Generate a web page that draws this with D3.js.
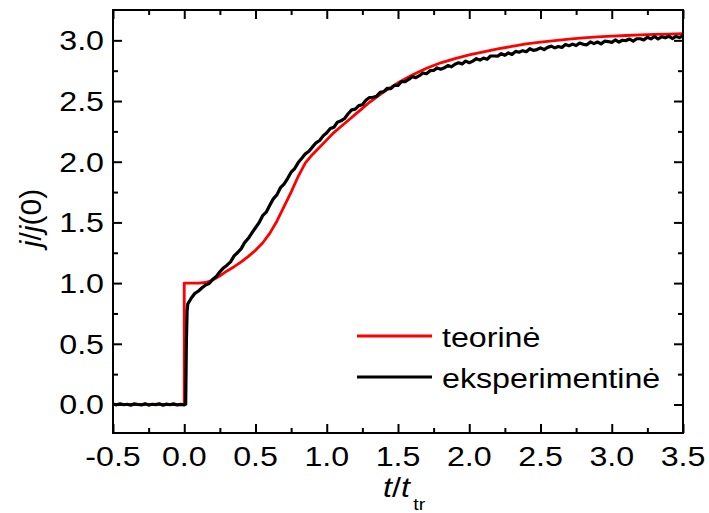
<!DOCTYPE html>
<html>
<head>
<meta charset="utf-8">
<script src="https://cdn.jsdelivr.net/npm/d3@7"></script>
<style>
  html, body { margin: 0; padding: 0; background: #fff; }
  text { font-family: "Liberation Sans", Arial, sans-serif; fill: #000; }
</style>
</head>
<body>
<svg id="chart" width="709" height="513"></svg>
<script>
// ---------------- data ----------------
const xTicks = [-0.5, 0.0, 0.5, 1.0, 1.5, 2.0, 2.5, 3.0, 3.5];
const xTickLabels = ["-0.5", "0.0", "0.5", "1.0", "1.5", "2.0", "2.5", "3.0", "3.5"];
const xMinor = [-0.25, 0.25, 0.75, 1.25, 1.75, 2.25, 2.75, 3.25];
const yTicks = [0.0, 0.5, 1.0, 1.5, 2.0, 2.5, 3.0];
const yTickLabels = ["0.0", "0.5", "1.0", "1.5", "2.0", "2.5", "3.0"];
const yMinor = [0.25, 0.75, 1.25, 1.75, 2.25, 2.75];
const seriesNames = ["teorinė", "eksperimentinė"];
const seriesColors = ["#ff0000", "#000000"];

// theoretical curve (teorinė)
const theoT = [-0.5, 0.0, 0.0, 0.05, 0.10, 0.15, 0.20, 0.25, 0.30, 0.35, 0.40, 0.45, 0.50, 0.55, 0.60, 0.65, 0.70, 0.75, 0.80, 0.85, 0.875, 0.90, 0.95, 1.00, 1.05, 1.10, 1.15, 1.20, 1.25, 1.30, 1.40, 1.50, 1.60, 1.70, 1.80, 1.90, 2.00, 2.10, 2.20, 2.30, 2.40, 2.50, 2.60, 2.70, 2.80, 2.90, 3.00, 3.10, 3.20, 3.30, 3.40, 3.50];
const theoJ = [0, 0, 1.0, 1.0, 1.0, 1.005, 1.025, 1.06, 1.10, 1.135, 1.175, 1.22, 1.27, 1.33, 1.41, 1.51, 1.63, 1.75, 1.88, 1.99, 2.025, 2.06, 2.12, 2.18, 2.24, 2.29, 2.34, 2.39, 2.44, 2.49, 2.575, 2.65, 2.715, 2.77, 2.815, 2.85, 2.88, 2.905, 2.93, 2.95, 2.97, 2.985, 2.998, 3.01, 3.02, 3.028, 3.035, 3.04, 3.045, 3.05, 3.052, 3.055];

// experimental curve (eksperimentinė)
const expT = [-0.5, -0.475, -0.45, -0.425, -0.4, -0.375, -0.35, -0.325, -0.3, -0.275, -0.25, -0.225, -0.2, -0.175, -0.15, -0.125, -0.1, -0.075, -0.05, -0.025, 0.0,
  0.01, 0.015, 0.02,
  0.025, 0.05, 0.075, 0.1, 0.125, 0.15, 0.175, 0.2, 0.225, 0.25, 0.275, 0.3, 0.325, 0.35, 0.375, 0.4, 0.425, 0.45, 0.475, 0.5,
  0.525, 0.55, 0.575, 0.6, 0.625, 0.65, 0.675, 0.7, 0.725, 0.75, 0.775, 0.8, 0.825, 0.85, 0.875, 0.9, 0.925, 0.95, 0.975, 1.0,
  1.025, 1.05, 1.075, 1.1, 1.125, 1.15, 1.175, 1.2, 1.225, 1.25, 1.275, 1.3, 1.325, 1.35, 1.375, 1.4, 1.425, 1.45, 1.475, 1.5,
  1.525, 1.55, 1.575, 1.6, 1.625, 1.65, 1.675, 1.7, 1.725, 1.75, 1.775, 1.8, 1.825, 1.85, 1.875, 1.9, 1.925, 1.95, 1.975, 2.0,
  2.025, 2.05, 2.075, 2.1, 2.125, 2.15, 2.175, 2.2, 2.225, 2.25, 2.275, 2.3, 2.325, 2.35, 2.375, 2.4, 2.425, 2.45, 2.475, 2.5,
  2.525, 2.55, 2.575, 2.6, 2.625, 2.65, 2.675, 2.7, 2.725, 2.75, 2.775, 2.8, 2.825, 2.85, 2.875, 2.9, 2.925, 2.95, 2.975, 3.0,
  3.025, 3.05, 3.075, 3.1, 3.125, 3.15, 3.175, 3.2, 3.225, 3.25, 3.275, 3.3, 3.325, 3.35, 3.375, 3.4, 3.425, 3.45, 3.475, 3.5];
const expJ = [0.004, -0.003, 0.006, -0.002, 0.002, -0.006, 0.005, 0.000, -0.004, 0.007, -0.005, 0.002, -0.001, 0.006, -0.006, 0.003, -0.002, 0.005, -0.004, 0.001, -0.003,
  0.003, 0.52, 0.77,
  0.829, 0.877, 0.916, 0.935, 0.962, 0.985, 0.996, 1.031, 1.054, 1.093, 1.125, 1.148, 1.175, 1.224, 1.252, 1.284, 1.336, 1.369, 1.413, 1.456,
  1.498, 1.555, 1.584, 1.642, 1.694, 1.727, 1.786, 1.815, 1.861, 1.914, 1.944, 1.993, 2.028, 2.065, 2.086, 2.122, 2.156, 2.175, 2.213, 2.238,
  2.273, 2.284, 2.326, 2.337, 2.356, 2.395, 2.427, 2.433, 2.462, 2.469, 2.506, 2.529, 2.531, 2.540, 2.572, 2.578, 2.605, 2.602, 2.629, 2.628,
  2.661, 2.660, 2.678, 2.701, 2.693, 2.709, 2.731, 2.725, 2.750, 2.752, 2.773, 2.762, 2.774, 2.792, 2.782, 2.803, 2.815, 2.806, 2.829, 2.816,
  2.829, 2.849, 2.837, 2.854, 2.844, 2.871, 2.871, 2.870, 2.890, 2.877, 2.896, 2.884, 2.909, 2.902, 2.915, 2.906, 2.931, 2.917, 2.924, 2.938,
  2.924, 2.942, 2.952, 2.938, 2.950, 2.941, 2.965, 2.956, 2.969, 2.957, 2.978, 2.967, 2.963, 2.987, 2.973, 2.986, 2.971, 2.993, 2.990, 2.983,
  3.003, 2.986, 3.001, 2.998, 3.011, 2.993, 3.013, 3.013, 3.004, 3.025, 3.012, 3.032, 3.011, 3.029, 3.021, 3.034, 3.015, 3.032, 3.023, 3.038];

// ---------------- layout ----------------
const svg = d3.select("#chart");
const L = 113, R = 683, T = 10, B = 433;
const SX = 1.15; // horizontal text stretch of the original figure
const FS = 28;

const x = d3.scaleLinear().domain([-0.5, 3.5]).range([L, R]);
const y = d3.scaleLinear().domain([-0.235, 3.25]).range([B, T]);

const theo = theoT.map((t, i) => [t, theoJ[i]]);
const exp = expT.map((t, i) => [t, expJ[i]]);

const line = d3.line().x(d => x(d[0])).y(d => y(d[1]));

const plot = svg.append("g");
plot.append("path").datum(theo)
  .attr("d", line).attr("fill", "none")
  .attr("stroke", seriesColors[0]).attr("stroke-width", 2.8)
  .attr("stroke-linejoin", "round");
plot.append("path").datum(exp)
  .attr("d", line).attr("fill", "none")
  .attr("stroke", seriesColors[1]).attr("stroke-width", 3.2)
  .attr("stroke-linejoin", "round");

// axes with inward ticks on all sides
function axisSet(axisFn, scale, ticks, size, transform) {
  const g = svg.append("g").attr("transform", transform)
    .call(axisFn(scale).tickValues(ticks).tickSize(size).tickFormat(""));
  g.select(".domain").remove();
  g.selectAll(".tick line").attr("stroke", "#000").attr("stroke-width", 2);
  return g;
}
axisSet(d3.axisTop, x, xTicks, 9, `translate(0,${B})`);
axisSet(d3.axisTop, x, xMinor, 5, `translate(0,${B})`);
axisSet(d3.axisBottom, x, xTicks, 9, `translate(0,${T})`);
axisSet(d3.axisBottom, x, xMinor, 5, `translate(0,${T})`);
axisSet(d3.axisRight, y, yTicks, 9, `translate(${L},0)`);
axisSet(d3.axisRight, y, yMinor, 5, `translate(${L},0)`);
axisSet(d3.axisLeft, y, yTicks, 9, `translate(${R},0)`);
axisSet(d3.axisLeft, y, yMinor, 5, `translate(${R},0)`);

// frame
svg.append("rect").attr("x", L).attr("y", T).attr("width", R - L).attr("height", B - T)
  .attr("fill", "none").attr("stroke", "#000").attr("stroke-width", 2);

function stretchedText(px, py, anchor, str, size) {
  const g = svg.append("g").attr("transform", `translate(${px},${py}) scale(${SX},1)`);
  return g.append("text").attr("x", 0).attr("y", 0)
    .attr("text-anchor", anchor).attr("font-size", size).text(str);
}

// tick labels
xTicks.forEach((v, i) => stretchedText(x(v), 466, "middle", xTickLabels[i], FS));
yTicks.forEach((v, i) => stretchedText(104, y(v) + 10, "end", yTickLabels[i], FS));

// x axis title t/t_tr
{
  const g = svg.append("g").attr("transform", `translate(383,497) scale(${SX},1)`);
  const t = g.append("text").attr("font-size", FS);
  t.append("tspan").attr("font-style", "italic").text("t");
  t.append("tspan").text("/");
  t.append("tspan").attr("font-style", "italic").text("t");
  t.append("tspan").attr("font-size", 17).attr("dx", 3).attr("dy", 13).text("tr");
}
// y axis title j/j(0)
{
  const t = svg.append("text").attr("transform", "translate(41,218) rotate(-90)")
    .attr("text-anchor", "middle").attr("font-size", 30);
  t.append("tspan").attr("font-style", "italic").text("j");
  t.append("tspan").text("/");
  t.append("tspan").attr("font-style", "italic").text("j");
  t.append("tspan").text("(0)");
}

// legend
const legY = [336, 377];
seriesNames.forEach((name, i) => {
  svg.append("line").attr("x1", 357).attr("x2", 432).attr("y1", legY[i]).attr("y2", legY[i])
    .attr("stroke", seriesColors[i]).attr("stroke-width", 3);
  stretchedText(442, legY[i] + 11, "start", name, FS);
});
</script>
</body>
</html>
